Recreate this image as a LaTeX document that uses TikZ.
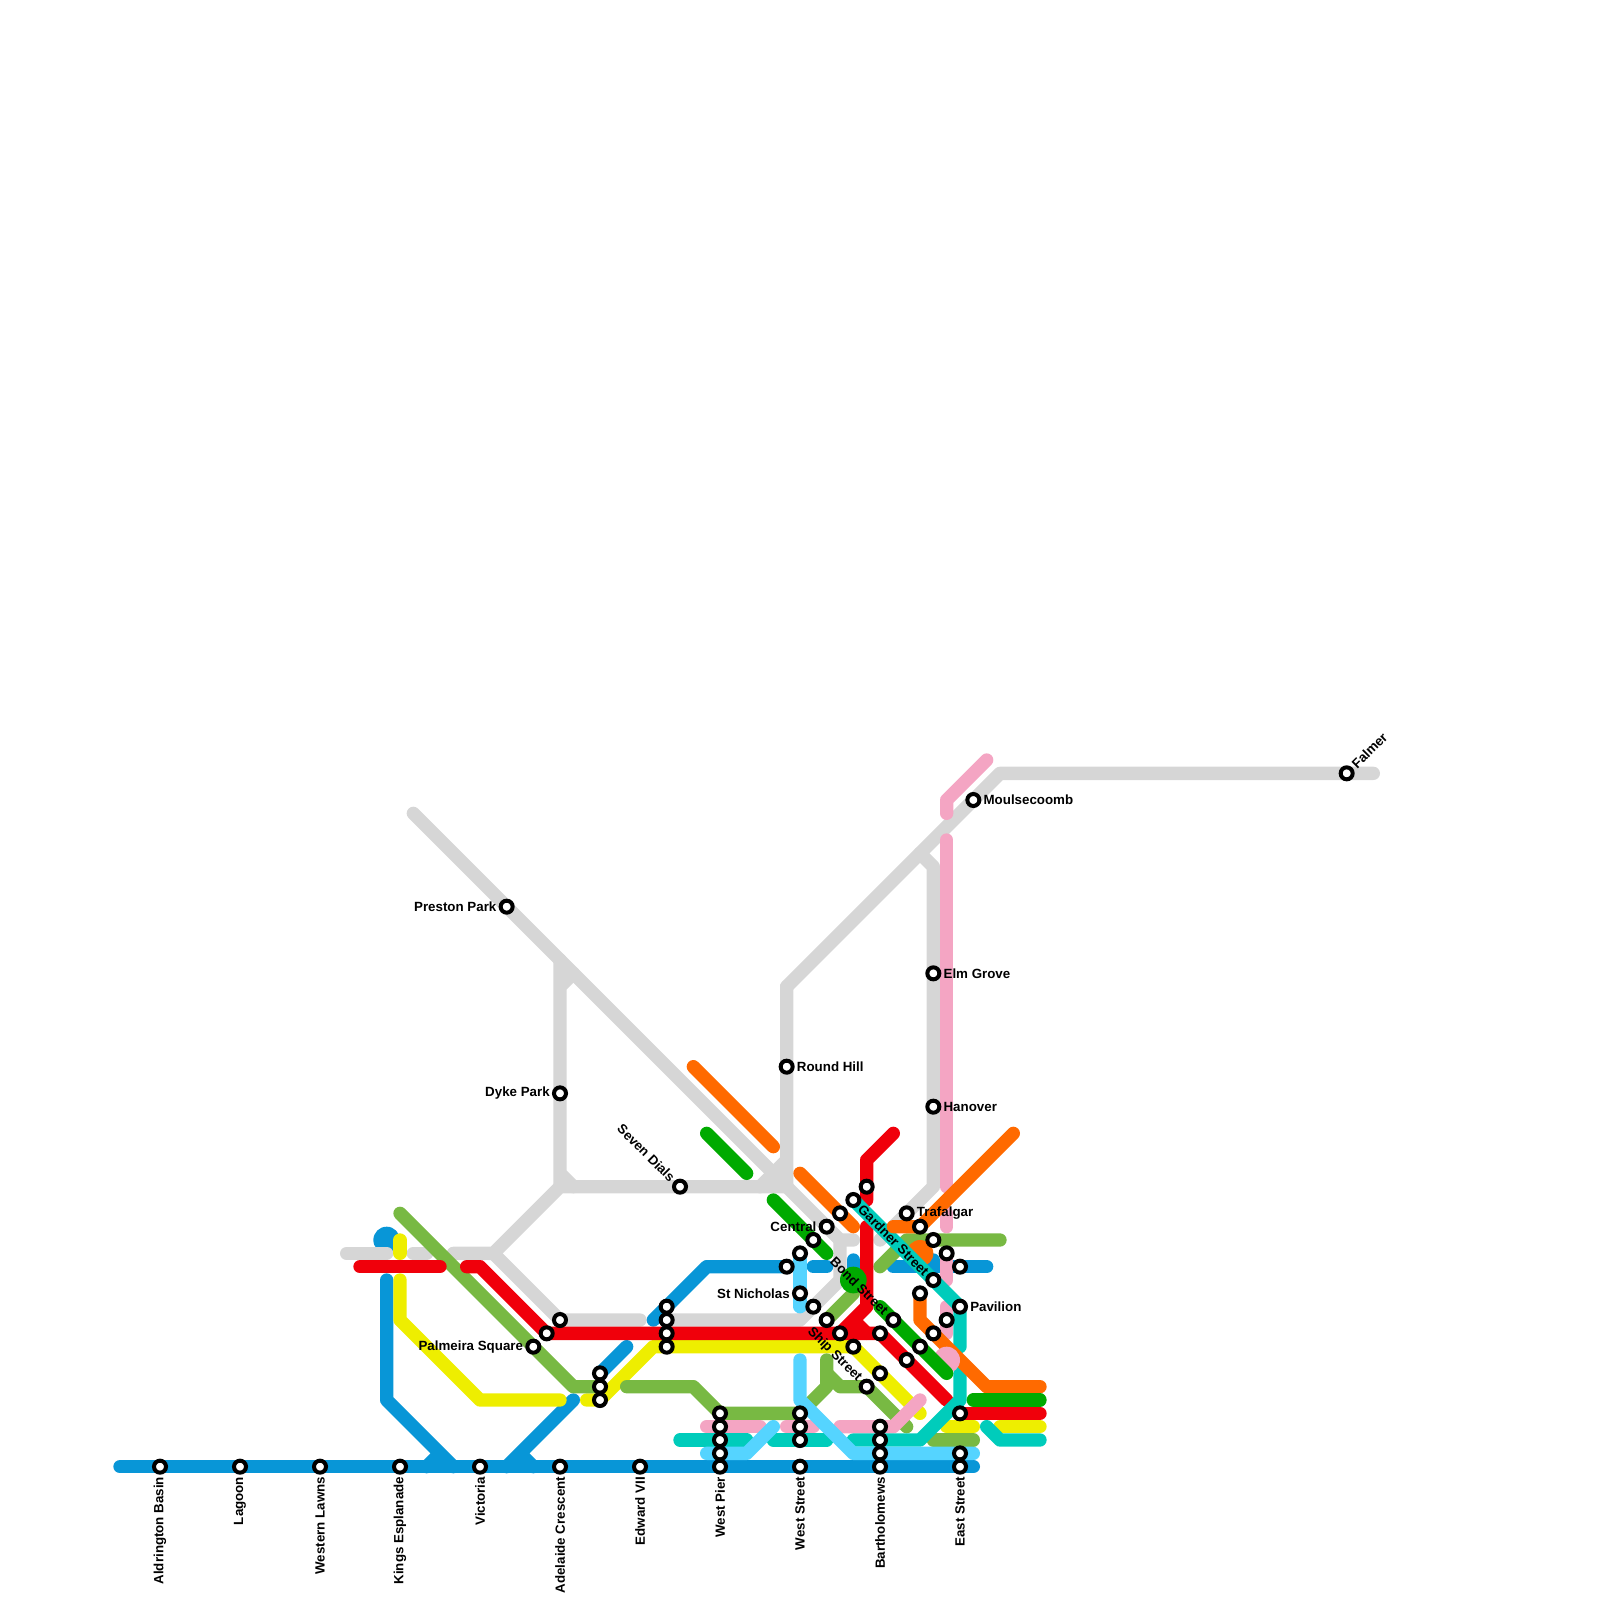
\documentclass[tikz,border=0pt]{standalone}
\usepackage{fontspec}
\setmainfont{Liberation Sans}
\usetikzlibrary{positioning}
\definecolor{stone}{HTML}{D6D6D6}
\definecolor{marine}{HTML}{0896D7}
\definecolor{sky}{HTML}{55D4FF}
\definecolor{signal}{HTML}{F0000B}
\definecolor{lemon}{HTML}{EEEE00}
\definecolor{moss}{HTML}{78B943}
\definecolor{forest}{HTML}{00AA00}
\definecolor{tangerine}{HTML}{FF6A00}
\definecolor{blush}{HTML}{F4A5C3}
\definecolor{lagoon}{HTML}{00CCBB}
\tikzset{
  route/.style={draw=#1,line width=10pt,line cap=round,line join=round},
  hub/.style={fill=#1},
  stop/.style={circle,draw=black,fill=white,line width=3pt,minimum size=9pt,inner sep=0pt},
  tag/.style={font=\bfseries\fontsize{10}{12}\selectfont,inner sep=0pt,text=black},
}
\begin{document}
\begin{tikzpicture}[x=10pt,y=-10pt]
  \useasboundingbox (0,0) rectangle (120,120);
  % stone lines
  \fill[hub=marine] (29,93) circle (1);
  \draw[route=stone] (26,94) -- (29,94);
  \draw[route=stone] (31,94) -- (32,94);
  \draw[route=stone] (34,94) -- (37,94) -- (42,89) -- (59,89);
  \draw[route=stone] (37,94) -- (42,99) -- (48,99);
  \draw[route=stone] (42,72) -- (42,89) (42,74) -- (43,73) (42,88) -- (43,89);
  \draw[route=stone] (31,61) -- (63,93) -- (64,93);
  \draw[route=stone] (59,74) -- (59,89) (59,87) -- (57,89);
  \draw[route=stone] (103,58) -- (75,58) -- (59,74);
  \draw[route=stone] (69,64) -- (70,65) -- (70,89) -- (66,93);
  \draw[route=stone] (63,93) -- (63,96) -- (60,99) -- (50,99);
  % marine lines
  \draw[route=marine] (9,110) -- (73,110);
  \draw[route=marine] (29,96) -- (29,105) -- (34,110) (32,110) -- (33,109);
  \draw[route=marine] (38,110) -- (43,105) (39,109) -- (40,110);
  \draw[route=marine] (45,103) -- (47,101);
  \draw[route=marine] (49,99) -- (53,95) -- (59,95);
  \draw[route=marine] (61,95) -- (62,95);
  \draw[route=marine] (64,94.5) -- (64,96);
  \draw[route=marine] (67,95) -- (74,95) (70,94.5) -- (70,95);
  % lemon lines
  \draw[route=lemon] (30,93) -- (30,94);
  \draw[route=lemon] (30,96) -- (30,99) -- (36,105) -- (42,105);
  \draw[route=lemon] (44,105) -- (45,105) -- (49,101) -- (64,101) -- (69,106);
  \draw[route=lemon] (71,107) -- (73,107);
  \draw[route=lemon] (75,107) -- (78,107);
  % moss lines
  \draw[route=moss] (30,91) -- (43,104) -- (45,104);
  \draw[route=moss] (47,104) -- (52,104) -- (54,106) -- (60,106);
  \draw[route=moss] (62,102) -- (62,104) -- (60,106);
  \draw[route=moss] (62,103) -- (63,104) -- (65,104) -- (68,107);
  \draw[route=moss] (70,108) -- (73,108);
  \draw[route=moss] (66,95) -- (68,93) -- (75,93);
  \draw[route=moss] (62,99) -- (64,97);
  % blush lines
  \draw[route=blush] (74,57) -- (71,60) -- (71,61);
  \draw[route=blush] (71,63) -- (71,89);
  \draw[route=blush] (71,91) -- (71,92);
  \draw[route=blush] (71,94) -- (71,96);
  \draw[route=blush] (71,98) -- (71,100);
  \draw[route=blush] (53,107) -- (57,107);
  \draw[route=blush] (59,107) -- (61,107);
  \draw[route=blush] (63,107) -- (67,107) -- (69,105);
  % signal lines
  \draw[route=signal] (27,95) -- (33,95);
  \draw[route=signal] (35,95) -- (36,95) -- (41,100) -- (66,100) -- (71,105);
  \draw[route=signal] (67,85) -- (65,87) -- (65,90);
  \draw[route=signal] (65,92) -- (65,98) -- (63,100) (64,99) -- (65,100);
  \draw[route=signal] (72,106) -- (78,106);
  % lagoon lines
  \fill[hub=tangerine] (69,94) circle (1);
  \draw[route=lagoon] (51,108) -- (56,108);
  \draw[route=lagoon] (58,108) -- (62,108);
  \draw[route=lagoon] (64,108) -- (69,108) -- (72,105) -- (72,103);
  \draw[route=lagoon] (64,90) -- (72,98) -- (72,101);
  \draw[route=lagoon] (74,107) -- (75,108) -- (78,108);
  % tangerine lines
  \draw[route=tangerine] (52,80) -- (58,86);
  \draw[route=tangerine] (60,88) -- (64,92);
  \draw[route=tangerine] (76,85) -- (69,92) -- (67,92);
  \draw[route=tangerine] (69,97) -- (69,99) -- (74,104) -- (78,104);
  \fill[hub=blush] (71,102) circle (1);
  % forest lines
  \draw[route=forest] (53,85) -- (56,88);
  \draw[route=forest] (58,90) -- (62,94);
  \draw[route=forest] (66,98) -- (71,103);
  \draw[route=forest] (73,105) -- (78,105);
  % sky lines
  \draw[route=sky] (60,94) -- (60,98);
  \draw[route=sky] (60,102) -- (60,105) -- (64,109) -- (73,109);
  \draw[route=sky] (53,109) -- (56,109) -- (58,107);
  \fill[hub=forest] (64,96) circle (1);
  % stops along the bottom
  \foreach \n/\t/\x in {aldrington/Aldrington Basin/12,lagoonstop/Lagoon/18,lawns/Western Lawns/24,kings/Kings Esplanade/30,victoria/Victoria/36,adelaide/Adelaide Crescent/42,edward/Edward VII/48,pier/West Pier/54,weststreet/West Street/60,bartholomews/Bartholomews/66,eaststreet/East Street/72}{
    \node[stop] (\n) at (\x,110) {};
    \node[tag,rotate=90,anchor=east] (\n L) at ([yshift=-7.5pt]\n.center) {\t};
  }
  % stops without a name of their own
  \foreach \x/\y in {65/89,63/91,60/94,59/95,61/98,62/99,63/100,66/100,69/92,70/93,71/94,72/95,70/96,69/97,71/99,70/100,69/101,68/102,66/103,
    60/106,60/107,60/108,66/107,66/108,66/109,72/106,72/109,54/106,54/107,54/108,54/109,50/98,50/99,50/100,50/101,45/103,45/104,45/105,42/99,41/100,64/101,61/93}
    \node[stop] (s\x-\y) at (\x,\y) {};
  % named stops, text to the right
  \foreach \n/\t/\x/\y in {moulsecoomb/Moulsecoomb/73/60,elm/Elm Grove/70/73,hanover/Hanover/70/83,roundhill/Round Hill/59/80,trafalgar/Trafalgar/68/91,pavilion/Pavilion/72/98}{
    \node[stop] (\n) at (\x,\y) {};
    \node[tag,anchor=west] (\n L) at ([xshift=7.5pt]\n.center) {\t};
  }
  % named stops, text to the left
  \foreach \n/\t/\x/\y in {preston/Preston Park/38/68,dyke/Dyke Park/42/82,palmeira/Palmeira Square/40/101,central/Central/62/92,nicholas/St Nicholas/60/97}{
    \node[stop] (\n) at (\x,\y) {};
    \node[tag,anchor=east] (\n L) at ([xshift=-7.5pt]\n.center) {\t};
  }
  % slanted names
  \node[stop] (falmer) at (101,58) {};
  \node[tag,rotate=45,anchor=west] (falmerL) at ([xshift=5.3pt,yshift=5.3pt]falmer.center) {Falmer};
  \node[stop] (sevendials) at (51,89) {};
  \node[tag,rotate=-45,anchor=east] (sevendialsL) at ([xshift=-5.3pt,yshift=5.3pt]sevendials.center) {Seven Dials};
  \node[stop] (gardner) at (64,90) {};
  \node[tag,rotate=-45,anchor=west] (gardnerL) at ([xshift=5.3pt,yshift=-5.3pt]gardner.center) {Gardner Street};
  \node[stop] (bond) at (67,99) {};
  \node[tag,rotate=-45,anchor=east] (bondL) at ([xshift=-5.3pt,yshift=5.3pt]bond.center) {Bond Street};
  \node[stop] (ship) at (65,104) {};
  \node[tag,rotate=-45,anchor=east] (shipL) at ([xshift=-5.3pt,yshift=5.3pt]ship.center) {Ship Street};
\end{tikzpicture}
\end{document}
